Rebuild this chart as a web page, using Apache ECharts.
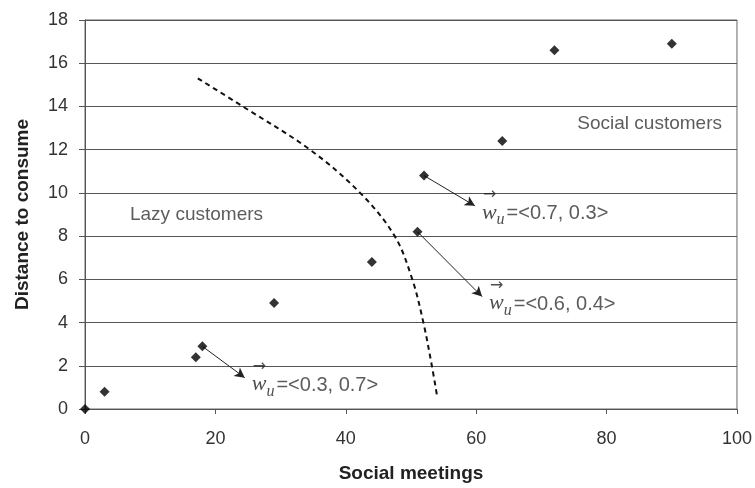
<!DOCTYPE html>
<html>
<head>
<meta charset="utf-8">
<script src="https://cdn.jsdelivr.net/npm/echarts@6/dist/echarts.min.js"></script>
<style>
  html, body { margin: 0; padding: 0; background: #fff; }
  #chart { width: 755px; height: 488px; }
</style>
</head>
<body>
<div id="chart"></div>
<script>
  // customer points (social meetings, distance to consume)
  const meetings = [0, 3, 17, 18, 29, 44, 51, 52, 64, 72, 90]
  const distance = [0, 0.8, 2.4, 2.9, 4.9, 6.8, 8.2, 10.8, 12.4, 16.6, 16.9]

  // dashed boundary between the two groups
  const boundaryX = [17.3, 24.2, 34.5, 42.2, 47.5, 50.2, 51.9, 53.2, 54.0]
  const boundaryY = [15.3, 14.0, 12.0, 10.0, 8.0, 6.0, 4.0, 2.0, 0.6]

  // weight annotations: arrow start, arrow end, text
  const arrowFrom = [[52, 10.8], [51, 8.2], [18, 2.9]]
  const arrowTo = [[59.8, 9.4], [60.9, 5.2], [24.5, 1.45]]
  const weightText = ['<0.7, 0.3>', '<0.6, 0.4>', '<0.3, 0.7>']

  const regionLabels = [
    { name: 'Lazy customers', x: 6.9, y: 9.0, align: 'left' },
    { name: 'Social customers', x: 97.7, y: 13.2, align: 'right' }
  ]

  const chart = echarts.init(document.getElementById('chart'))

  const textFont = 'Liberation Sans, Arial, sans-serif'
  const serifFont = 'Liberation Serif, DejaVu Serif, serif'

  const option = {
    animation: false,
    grid: {
      left: 85, right: 18, top: 20, bottom: 77,
      show: true, borderColor: '#666', borderWidth: 1
    },
    xAxis: {
      type: 'value', min: 0, max: 100, interval: 20,
      name: 'Social meetings', nameLocation: 'middle', nameGap: 55,
      nameTextStyle: { fontFamily: textFont, fontWeight: 'bold', fontSize: 19, color: '#222' },
      axisLine: { lineStyle: { color: '#555' } },
      axisTick: { show: true, length: 5, lineStyle: { color: '#555' } },
      axisLabel: { fontFamily: textFont, fontSize: 18, color: '#333', margin: 21 },
      splitLine: { show: false }
    },
    yAxis: {
      type: 'value', min: 0, max: 18, interval: 2,
      name: 'Distance to consume', nameLocation: 'middle', nameGap: 53,
      nameTextStyle: { fontFamily: textFont, fontWeight: 'bold', fontSize: 19, color: '#222' },
      axisLine: { show: true, lineStyle: { color: '#555' } },
      axisTick: { show: true, length: 6, lineStyle: { color: '#555' } },
      axisLabel: { fontFamily: textFont, fontSize: 18, color: '#333', margin: 17 },
      splitLine: { show: true, lineStyle: { color: '#555', width: 1 } }
    },
    series: [
      {
        type: 'line',
        data: boundaryX.map((x, i) => [x, boundaryY[i]]),
        smooth: 0.35,
        showSymbol: false,
        lineStyle: { color: '#111', width: 2, type: [5, 4] },
        z: 3
      },
      {
        type: 'scatter',
        data: meetings.map((x, i) => [x, distance[i]]),
        symbol: 'diamond',
        symbolSize: 10,
        itemStyle: { color: '#000' },
        z: 5,
        markLine: {
          silent: true,
          symbol: ['none', 'arrow'],
          symbolSize: [8, 10],
          label: { show: false },
          lineStyle: { color: '#222', width: 1, type: 'solid' },
          data: arrowFrom.map((p, i) => [{ coord: p }, { coord: arrowTo[i] }])
        }
      },
      {
        type: 'scatter',
        symbolSize: 0,
        silent: true,
        data: arrowTo.map((p, i) => ({ value: p, text: weightText[i] })),
        label: {
          show: true,
          position: 'right',
          distance: 7,
          offset: [0, 4],
          formatter: p => '{a|\u2192}\n{w|w}{u|u}{t|=' + p.data.text + '}',
          rich: {
            a: { fontFamily: 'DejaVu Sans, sans-serif', fontSize: 16, color: '#222', lineHeight: 6, padding: [0, 0, 0, 1] },
            w: { fontFamily: serifFont, fontStyle: 'italic', fontSize: 22, color: '#222', lineHeight: 30, verticalAlign: 'middle' },
            u: { fontFamily: serifFont, fontStyle: 'italic', fontSize: 16, color: '#222', lineHeight: 16, verticalAlign: 'bottom' },
            t: { fontFamily: textFont, fontSize: 20, color: '#333', lineHeight: 30, verticalAlign: 'middle', padding: [2, 0, 0, 2] }
          }
        }
      },
      {
        type: 'scatter',
        symbolSize: 0,
        silent: true,
        data: regionLabels.map(r => ({
          value: [r.x, r.y], name: r.name,
          label: { align: r.align }
        })),
        label: {
          show: true,
          position: 'inside',
          formatter: '{b}',
          fontFamily: textFont,
          fontSize: 19,
          color: '#333'
        }
      }
    ]
  }

  chart.setOption(option)
</script>
</body>
</html>
